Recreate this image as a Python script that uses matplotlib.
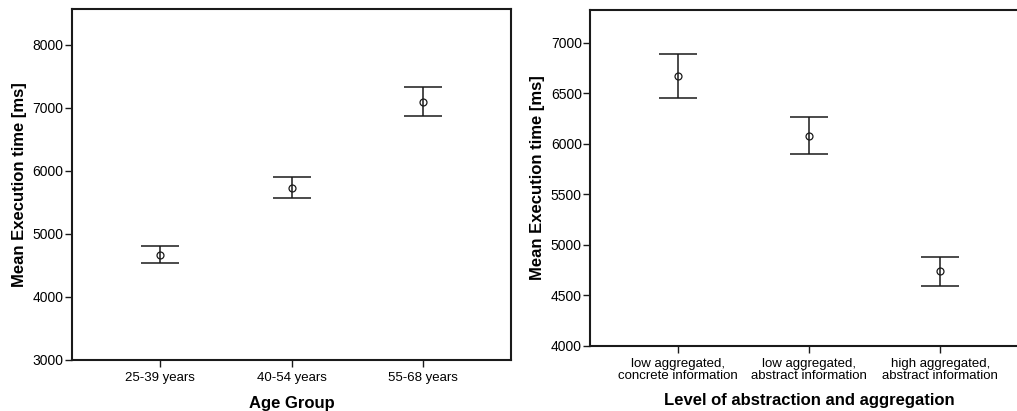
import matplotlib
matplotlib.use("Agg")
import matplotlib.pyplot as plt
import numpy as np

plt.rcParams['font.family'] = ['Liberation Sans', 'DejaVu Sans']

age_groups = ["25-39 years", "40-54 years", "55-68 years"]
age_mean = [4667, 5735, 7090]
age_lower = [4545, 5576, 6873]
age_upper = [4802, 5910, 7325]

levels = ["low aggregated,\nconcrete information",
          "low aggregated,\nabstract information",
          "high aggregated,\nabstract information"]
lvl_mean = [6667, 6079, 4736]
lvl_lower = [6452, 5901, 4591]
lvl_upper = [6885, 6261, 4881]

fig = plt.figure(figsize=(10.17, 4.11), dpi=100)
ax1 = fig.add_axes([0.0708, 0.1241, 0.4317, 0.8539])
ax2 = fig.add_axes([0.5804, 0.1589, 0.4304, 0.8168])

col = '#1a1a1a'

def draw(ax, cats, mean, lo, hi, ylim, yticks, xlabel):
    x = np.arange(len(cats))
    m = np.array(mean); l = np.array(lo); h = np.array(hi)
    ax.errorbar(x, m, yerr=[m - l, h - m], fmt='none', ecolor=col,
                elinewidth=1.1, capsize=13.5, capthick=1.1)
    ax.plot(x, m, 'o', ms=5, mfc='none', mec=col, mew=0.9, ls='none')
    ax.set_xlim(-0.67, len(cats) - 1 + 0.67)
    ax.set_ylim(*ylim)
    ax.set_yticks(yticks)
    ax.set_xticks(x)
    ax.set_xticklabels(cats, fontsize=9.5, linespacing=0.95)
    ax.tick_params(axis='y', labelsize=10, length=5, width=1, color=col, pad=1)
    ax.tick_params(axis='x', length=5, width=1, color=col, pad=4)
    for s in ax.spines.values():
        s.set_linewidth(1.5)
        s.set_color(col)
    ax.set_ylabel("Mean Execution time [ms]", fontsize=12, fontweight='bold')
    ax.set_xlabel(xlabel, fontsize=12, fontweight='bold', labelpad=8)

draw(ax1, age_groups, age_mean, age_lower, age_upper, (3000, 8570),
     [3000, 4000, 5000, 6000, 7000, 8000], "Age Group")
draw(ax2, levels, lvl_mean, lvl_lower, lvl_upper, (4000, 7324),
     [4000, 4500, 5000, 5500, 6000, 6500, 7000],
     "Level of abstraction and aggregation")

fig.savefig("out.png", dpi=100)
